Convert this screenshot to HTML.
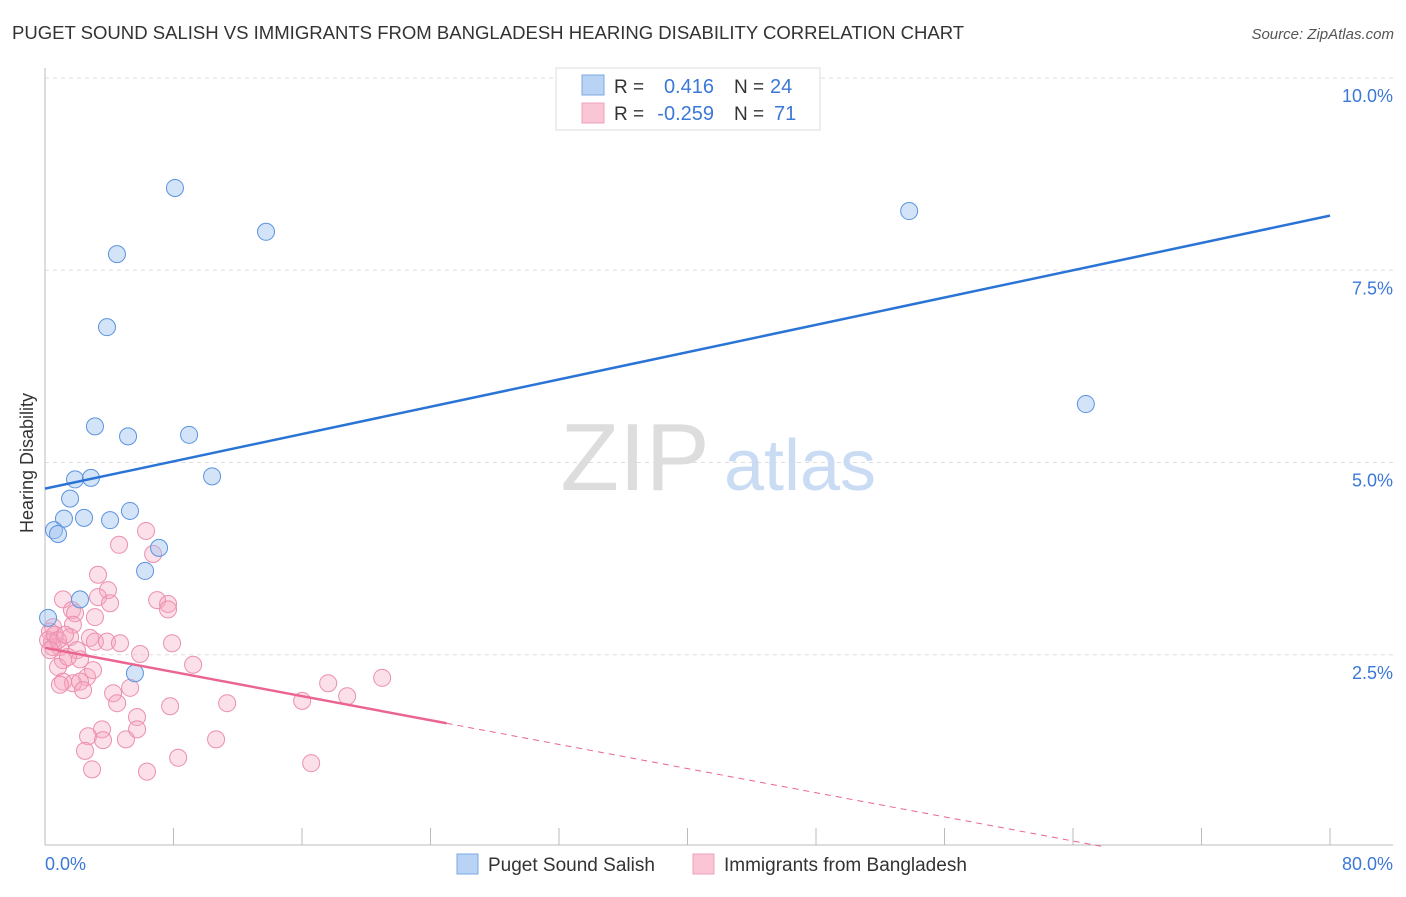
<!DOCTYPE html>
<html><head><meta charset="utf-8"><style>
body{margin:0;background:#fff;font-family:"Liberation Sans",sans-serif}
svg text{font-family:"Liberation Sans",sans-serif}
</style></head><body>
<svg width="1406" height="892" xmlns="http://www.w3.org/2000/svg">
<text x="12" y="39" font-size="18.55" fill="#333">PUGET SOUND SALISH VS IMMIGRANTS FROM BANGLADESH HEARING DISABILITY CORRELATION CHART</text>
<text x="1394" y="39" font-size="15" fill="#555" font-style="italic" text-anchor="end">Source: ZipAtlas.com</text>
<g id="grid"></g>
<g><text x="635" y="490" font-size="96" fill="#ddd" font-family="Liberation Serif,serif" text-anchor="middle">ZIP</text><text x="800" y="490" font-size="72" fill="#c9dcf3" text-anchor="middle">atlas</text></g>
<line x1="45" y1="68" x2="45" y2="845" stroke="#bbb"/>
<line x1="45" y1="845" x2="1393" y2="845" stroke="#bbb"/>
<g id="ticks"></g>
<text x="26" y="456" font-size="18" fill="#333" text-anchor="middle" transform="rotate(-90 33 456)">Hearing Disability</text>
<text x="45" y="870" font-size="18" fill="#3b78d8">0.0%</text>
<text x="1393" y="870" font-size="18" fill="#3b78d8" text-anchor="end">80.0%</text>
<g id="pts"></g>
<g id="lines"></g>
<g>
<rect x="556" y="68" width="264" height="62" fill="#fff" stroke="#ddd"/>
<rect x="582" y="75" width="22" height="20" fill="#b9d3f5" stroke="#7aa7e3"/>
<rect x="582" y="103" width="22" height="20" fill="#fac6d5" stroke="#eca2b9"/>
<text x="614" y="93" font-size="19" fill="#333">R =</text><text x="714" y="93" font-size="20" fill="#3b78d8" text-anchor="end">0.416</text>
<text x="734" y="93" font-size="19" fill="#333">N =</text><text x="770" y="93" font-size="20" fill="#3b78d8">24</text>
<text x="614" y="120" font-size="19" fill="#333">R =</text><text x="714" y="120" font-size="20" fill="#3b78d8" text-anchor="end">-0.259</text>
<text x="734" y="120" font-size="19" fill="#333">N =</text><text x="774" y="120" font-size="20" fill="#3b78d8">71</text>
</g>
<g>
<rect x="457" y="854" width="21" height="20" fill="#b9d3f5" stroke="#7aa7e3"/>
<text x="488" y="871" font-size="19" fill="#333">Puget Sound Salish</text>
<rect x="693" y="854" width="21" height="20" fill="#fac6d5" stroke="#eca2b9"/>
<text x="724" y="871" font-size="19" fill="#333">Immigrants from Bangladesh</text>
</g>
</svg>
<script>
const yTicks=[2.5,5.0,7.5,10.0];
const blueX=[8.09,13.76,4.48,3.86,3.11,5.17,8.97,10.40,1.87,2.86,1.56,1.18,2.43,4.05,5.29,0.56,0.81,7.10,6.23,2.18,0.19,5.60,53.8,64.8];
const blueY=[8.57,8.00,7.71,6.76,5.47,5.34,5.36,4.82,4.78,4.80,4.53,4.27,4.28,4.25,4.37,4.12,4.07,3.89,3.59,3.22,2.98,2.26,8.27,5.76];
const pinkX=[6.29,4.61,6.73,3.30,3.92,1.12,3.30,4.05,6.98,7.66,7.66,1.68,1.87,3.11,1.74,0.50,1.56,2.80,3.11,3.86,4.67,7.91,1.99,0.44,0.50,0.93,5.92,1.12,2.18,0.81,9.22,2.62,1.12,1.74,2.18,2.37,5.30,4.24,4.49,7.79,11.34,16.01,17.63,18.81,20.99,5.73,5.73,3.55,2.68,3.61,5.04,10.65,2.49,8.29,16.57,2.93,6.35,0.31,0.19,0.62,0.81,1.25,0.31,1.43,2.99,0.93];
const pinkY=[4.11,3.93,3.81,3.54,3.34,3.22,3.25,3.17,3.21,3.16,3.09,3.08,3.04,2.99,2.89,2.86,2.73,2.72,2.67,2.67,2.65,2.65,2.56,2.67,2.60,2.60,2.51,2.43,2.44,2.34,2.37,2.21,2.15,2.13,2.15,2.04,2.07,2.00,1.87,1.83,1.87,1.90,2.13,1.96,2.20,1.69,1.53,1.53,1.44,1.39,1.40,1.40,1.25,1.16,1.09,1.01,0.98,2.80,2.69,2.76,2.69,2.76,2.56,2.47,2.30,2.11];
const blueLine=[4.66,8.21];
const pinkLine=[2.59,-0.55];
const X=v=>45+v/80*1285, Y=v=>847-v*76.9;
const NS='http://www.w3.org/2000/svg';
function mk(t,a,p){const e=document.createElementNS(NS,t);for(const k in a)e.setAttribute(k,a[k]);p.appendChild(e);return e;}
const grid=document.getElementById('grid');
yTicks.forEach(t=>{
 const l=mk('line',{x1:45,x2:1393,y1:Y(t),y2:Y(t),stroke:'#ddd','stroke-dasharray':'4,4'},grid);
 
 
 const tx=mk('text',{x:1393,y:Y(t)+24,'font-size':18,fill:'#3b78d8','text-anchor':'end'},grid);
 tx.textContent=t.toFixed(1)+'%';
 
 
});
const tk=document.getElementById('ticks');
for(let i=0;i<=10;i++){const l=mk('line',{x1:X(i*8),x2:X(i*8),y1:828,y2:845,stroke:'#bbb'},tk);
 
 }
const pts=document.getElementById('pts');
pinkX.forEach((x,i)=>{const c=mk('circle',{cx:X(x),cy:Y(pinkY[i]),r:8.5,fill:'rgba(245,165,192,0.35)',stroke:'#eb8fae','stroke-width':1},pts);
 
 });
blueX.forEach((x,i)=>{const c=mk('circle',{cx:X(x),cy:Y(blueY[i]),r:8.5,fill:'rgba(160,195,240,0.45)',stroke:'#5b93de','stroke-width':1},pts);
 
 });
const ln=document.getElementById('lines');
const bl=mk('line',{x1:X(0),y1:Y(blueLine[0]),x2:X(80),y2:Y(blueLine[1]),stroke:'#2a74d6','stroke-width':2.5},ln);


const pv=x=>pinkLine[0]+(pinkLine[1]-pinkLine[0])*x/80;
const xs=25, xz=pinkLine[0]/(pinkLine[0]-pinkLine[1])*80;
const pl=mk('line',{x1:X(0),y1:Y(pv(0)),x2:X(xs),y2:Y(pv(xs)),stroke:'#ea6690','stroke-width':2.5},ln);


const pd=mk('line',{x1:X(xs),y1:Y(pv(xs)),x2:X(xz),y2:Y(0),stroke:'#ea6690','stroke-width':1,'stroke-dasharray':'6,5'},ln);


</script>
</body></html>
